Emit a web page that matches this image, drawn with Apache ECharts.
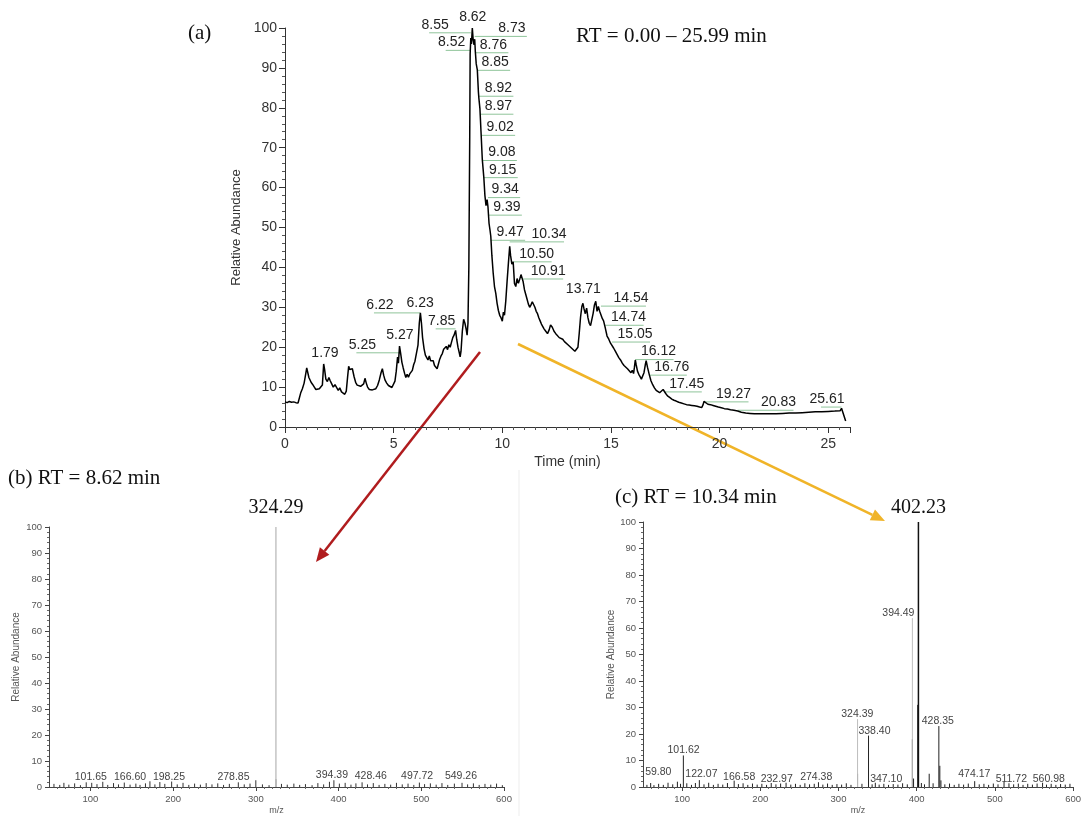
<!DOCTYPE html>
<html style="height: 100%">
<head>
    <meta charset="utf-8">
    <script src="https://cdn.jsdelivr.net/npm/echarts@6/dist/echarts.min.js"></script>
</head>
<body style="height: 100%; margin: 0; background: #fff">
    <div id="main" style="width: 1084px; height: 816px;"></div>
    <script type="text/javascript">
    // (a) chromatogram, RT 0.00 - 25.99 min
    var ticTime = [0.00, 0.10, 0.20, 0.30, 0.40, 0.50, 0.60, 0.68, 0.72, 0.80, 0.88, 0.95, 1.00, 1.05, 1.10, 1.15, 1.20, 1.28, 1.35, 1.42,
        1.50, 1.58, 1.65, 1.72, 1.78, 1.82, 1.88, 1.95, 2.02, 2.08, 2.15, 2.22, 2.30, 2.38, 2.45, 2.52, 2.60, 2.68, 2.75, 2.82,
        2.88, 2.93, 2.98, 3.05, 3.10, 3.18, 3.25, 3.32, 3.40, 3.48, 3.55, 3.62, 3.68, 3.74, 3.80, 3.88, 3.95, 4.02, 4.10, 4.18,
        4.26, 4.34, 4.42, 4.48, 4.54, 4.60, 4.68, 4.76, 4.84, 4.92, 5.00, 5.06, 5.12, 5.18, 5.22, 5.27, 5.32, 5.38, 5.44, 5.50,
        5.56, 5.62, 5.68, 5.74, 5.80, 5.86, 5.92, 5.98, 6.05, 6.12, 6.18, 6.23, 6.28, 6.33, 6.40, 6.46, 6.52, 6.58, 6.64, 6.70,
        6.76, 6.82, 6.88, 6.94, 7.00, 7.06, 7.12, 7.18, 7.24, 7.30, 7.36, 7.42, 7.48, 7.54, 7.60, 7.66, 7.72, 7.78, 7.85, 7.90,
        7.96, 8.02, 8.06, 8.10, 8.16, 8.22, 8.28, 8.34, 8.38, 8.42, 8.46, 8.50, 8.52, 8.55, 8.58, 8.62, 8.66, 8.70, 8.73, 8.76,
        8.80, 8.85, 8.90, 8.92, 8.97, 9.02, 9.08, 9.15, 9.20, 9.25, 9.30, 9.34, 9.39, 9.43, 9.47, 9.52, 9.58, 9.64, 9.70, 9.76,
        9.82, 9.88, 9.94, 10.00, 10.05, 10.10, 10.16, 10.22, 10.28, 10.34, 10.38, 10.44, 10.50, 10.56, 10.62, 10.68, 10.74, 10.80, 10.86, 10.91,
        10.96, 11.02, 11.08, 11.14, 11.20, 11.26, 11.32, 11.38, 11.44, 11.50, 11.56, 11.62, 11.68, 11.74, 11.80, 11.86, 11.92, 12.00, 12.08, 12.16,
        12.22, 12.30, 12.38, 12.46, 12.54, 12.62, 12.70, 12.78, 12.86, 12.94, 13.02, 13.10, 13.18, 13.26, 13.34, 13.42, 13.48, 13.54, 13.60, 13.66,
        13.71, 13.76, 13.82, 13.88, 13.94, 14.00, 14.06, 14.12, 14.18, 14.24, 14.30, 14.36, 14.42, 14.48, 14.54, 14.60, 14.66, 14.74, 14.82, 14.90,
        14.98, 15.05, 15.12, 15.20, 15.28, 15.36, 15.44, 15.52, 15.60, 15.68, 15.76, 15.84, 15.92, 15.98, 16.04, 16.08, 16.12, 16.16, 16.22, 16.28,
        16.34, 16.40, 16.46, 16.52, 16.58, 16.62, 16.68, 16.76, 16.84, 16.92, 17.00, 17.08, 17.16, 17.24, 17.32, 17.40, 17.45, 17.52, 17.60, 17.70,
        17.80, 17.90, 18.00, 18.12, 18.24, 18.36, 18.48, 18.60, 18.72, 18.84, 18.96, 19.08, 19.18, 19.24, 19.28, 19.36, 19.46, 19.58, 19.70, 19.82,
        19.94, 20.08, 20.22, 20.36, 20.50, 20.66, 20.83, 21.00, 21.20, 21.40, 21.60, 21.80, 22.00, 22.30, 22.60, 22.90, 23.20, 23.50, 23.80, 24.10,
        24.40, 24.70, 25.00, 25.30, 25.55, 25.61, 25.68, 25.80];
    var ticAbund = [6.3, 6.1, 6.4, 6.2, 6.3, 6.1, 6.0, 5.9, 8.5, 9.6, 11.0, 13.2, 14.8, 13.6, 12.4, 12.9, 11.2, 10.6, 10.0, 9.4,
        9.0, 9.6, 9.1, 10.5, 15.8, 14.5, 12.0, 11.4, 12.4, 11.6, 10.8, 10.0, 10.6, 10.2, 9.2, 9.8, 8.8, 8.5, 8.2, 9.0,
        12.5, 15.2, 14.4, 14.0, 14.6, 12.6, 11.2, 10.5, 11.0, 10.2, 9.8, 10.8, 12.2, 11.0, 10.0, 9.4, 9.0, 9.3, 8.8, 9.6,
        10.4, 11.8, 13.6, 14.6, 13.0, 11.8, 11.0, 10.4, 10.0, 9.9, 10.4, 11.5, 14.0, 17.5, 16.0, 20.3, 18.5, 16.2, 14.8, 13.5,
        12.4, 13.2, 12.5, 13.3, 13.0, 14.2, 15.6, 16.5, 17.0, 20.5, 26.0, 28.6, 26.0, 22.4, 19.6, 18.0, 17.4, 16.8, 17.8, 16.6,
        16.2, 16.6, 15.4, 15.0, 14.6, 15.8, 17.0, 17.8, 18.4, 19.5, 19.0, 20.2, 19.4, 20.6, 20.0, 21.2, 22.4, 23.0, 24.2, 22.0,
        20.0, 18.6, 17.6, 19.0, 24.0, 27.0, 26.0, 24.4, 23.0, 26.0, 40.0, 72.0, 93.5, 97.5, 96.0, 100.0, 97.0, 95.8, 97.2, 94.0,
        91.0, 89.5, 84.0, 82.5, 79.8, 74.0, 67.0, 62.5, 58.0, 55.5, 57.0, 55.2, 51.0, 49.5, 47.8, 43.0, 38.6, 35.2, 33.5, 31.0,
        29.2, 28.0, 27.4, 26.5, 28.8, 28.0, 31.6, 36.5, 41.0, 45.3, 43.0, 40.8, 41.4, 36.0, 35.2, 37.2, 36.0, 37.0, 38.2, 38.6,
        36.4, 34.4, 33.2, 32.0, 30.8, 30.0, 30.6, 31.4, 31.2, 30.0, 29.0, 28.4, 27.4, 26.6, 25.8, 25.4, 24.6, 24.0, 23.4, 24.4,
        25.6, 25.0, 24.0, 23.4, 23.0, 22.4, 22.8, 22.0, 21.4, 21.0, 20.6, 20.2, 19.8, 19.4, 19.0, 18.8, 20.0, 23.5, 27.5, 30.2,
        31.0, 29.6, 28.4, 29.8, 27.4, 26.0, 25.4, 25.8, 28.5, 30.6, 31.5, 29.0, 30.2, 29.0, 28.6, 27.2, 26.6, 24.8, 22.8, 22.0,
        21.0, 20.6, 19.8, 19.0, 18.2, 17.4, 16.8, 16.0, 15.4, 15.8, 14.6, 14.4, 13.6, 14.2, 13.4, 15.0, 16.8, 15.6, 14.0, 13.2,
        12.6, 12.0, 12.4, 13.6, 15.6, 16.6, 15.0, 13.2, 11.6, 10.6, 9.8, 9.2, 8.8, 8.6, 8.9, 9.4, 9.2, 8.4, 7.8, 7.4,
        7.0, 6.7, 6.5, 6.2, 6.0, 5.8, 5.6, 5.5, 5.4, 5.3, 5.2, 5.0, 4.9, 5.6, 6.4, 6.0, 5.7, 5.6, 5.4, 5.2,
        5.0, 4.8, 4.6, 4.5, 4.3, 4.2, 4.0, 3.7, 3.5, 3.4, 3.3, 3.3, 3.3, 3.3, 3.3, 3.4, 3.5, 3.5, 3.6, 3.7,
        3.8, 3.8, 3.9, 4.0, 4.1, 4.7, 4.2, 1.5];

    // peak annotations: retention time, label position (min, abundance)
    var peakRT = [1.79, 5.25, 5.27, 6.22, 6.23, 7.85, 8.52, 8.55, 8.62, 8.73, 8.76, 8.85, 8.92, 8.97, 9.02, 9.08, 9.15,
        9.34, 9.39, 9.47, 10.34, 10.50, 10.91, 13.71, 14.54, 14.74, 15.05, 16.12, 16.76, 17.45, 19.27, 20.83, 25.61];
    var peakLabelT = [1.84, 3.56, 5.29, 4.37, 6.22, 7.21, 7.67, 6.91, 8.64, 10.44, 9.59, 9.67, 9.82, 9.82, 9.90, 9.98, 10.02,
        10.13, 10.21, 10.36, 12.15, 11.58, 12.11, 13.73, 15.92, 15.81, 16.11, 17.19, 17.80, 18.49, 20.64, 22.71, 24.94];
    var peakLabelA = [18.5, 20.6, 22.9, 30.6, 31.1, 26.6, 96.4, 100.8, 102.7, 99.9, 95.8, 91.4, 84.9, 80.4, 75.1, 68.8, 64.5,
        59.5, 55.1, 48.8, 48.4, 43.4, 39.1, 34.6, 32.3, 27.5, 23.3, 18.9, 15.0, 10.8, 8.3, 6.2, 7.0];

    // (b) mass spectrum at RT 8.62 min: [m/z, relative abundance]
    var bSticks = [[56, 1.2], [63, 0.8], [68, 1.6], [74, 0.9], [81, 1.4], [88, 0.7], [95, 1.8], [101.65, 1.6], [108, 1.1], [115, 2.0],
        [121, 0.8], [128, 1.5], [134, 1.0], [141, 1.7], [148, 0.9], [155, 1.3], [160, 0.8], [166.60, 1.4], [172, 2.2], [178, 1.0],
        [184, 1.9], [190, 1.2], [198.25, 2.1], [205, 1.0], [212, 1.6], [219, 0.8], [226, 1.3], [233, 0.9], [240, 1.5], [247, 1.0],
        [254, 1.4], [261, 0.8], [268, 1.2], [278.85, 1.8], [286, 1.0], [293, 1.3], [300, 2.6], [308, 1.0], [316, 0.7], [324.29, 3.0],
        [331, 1.2], [338, 0.9], [346, 1.3], [353, 0.8], [360, 1.1], [368, 0.7], [375, 1.5], [382, 1.0], [389, 2.0], [394.39, 2.6],
        [401, 1.3], [408, 1.6], [415, 0.9], [421, 1.4], [428.46, 1.8], [435, 1.0], [442, 1.5], [449, 0.8], [456, 1.2], [463, 0.9],
        [470, 1.6], [477, 1.0], [484, 1.3], [491, 0.8], [497.72, 1.7], [504, 1.1], [511, 1.4], [518, 0.9], [525, 1.5], [532, 0.8],
        [540, 1.3], [549.26, 1.6], [556, 1.0], [563, 1.4], [570, 0.8], [577, 1.2], [584, 0.9], [591, 1.3], [598, 0.7]];
    // [peak m/z, label m/z, label abundance]
    var bLabels = [[101.65, 100.5, 3.8], [166.60, 148, 3.8], [198.25, 195, 3.8], [278.85, 273, 3.8],
        [394.39, 392, 4.5], [428.46, 439, 4.3], [497.72, 495, 4.3], [549.26, 548, 4.3]];
    var bBase = [324.29, 100, 107.3];

    // (c) mass spectrum at RT 10.34 min
    var cSticks = [[55, 0.8], [59.80, 1.5], [64, 0.7], [70, 1.2], [76, 0.8], [82, 1.6], [88, 1.0], [94, 2.0], [98, 1.2], [101.62, 11.9],
        [106, 1.4], [112, 0.8], [117, 1.5], [122.07, 2.6], [128, 1.0], [134, 1.6], [140, 0.8], [146, 1.2], [152, 0.9], [158, 1.5],
        [166.58, 2.4], [172, 1.1], [178, 1.4], [184, 0.8], [190, 1.3], [196, 0.9], [202, 1.2], [208, 0.8], [214, 1.5], [220, 1.0],
        [226, 1.3], [232.97, 1.6], [239, 0.9], [245, 1.2], [251, 0.8], [257, 1.4], [263, 1.0], [269, 1.2], [274.38, 1.8], [280, 0.9],
        [286, 1.3], [292, 0.8], [298, 1.1], [304, 0.9], [310, 1.4], [316, 0.8], [324.39, 5.0], [330, 1.2], [338.40, 19.4], [343, 1.0],
        [347.10, 1.6], [352, 0.9], [358, 1.2], [364, 0.8], [370, 1.1], [376, 0.9], [382, 1.4], [388, 1.0], [394.49, 18.0], [396, 3.2],
        [401.3, 31.0], [406, 1.5], [410, 1.0], [416, 5.0], [421, 1.4], [428.35, 23.0], [429.6, 8.0], [431, 2.5], [436, 1.0], [442, 1.3],
        [448, 0.8], [454, 1.2], [460, 0.9], [466, 1.3], [474.17, 2.2], [480, 1.0], [486, 1.2], [492, 0.8], [498, 1.3], [504, 1.0],
        [511.72, 2.0], [518, 1.4], [524, 1.0], [530, 1.3], [536, 0.8], [542, 1.2], [548, 0.9], [554, 1.3], [560.98, 1.6], [566, 0.9],
        [572, 1.2], [578, 0.8], [584, 1.1], [590, 0.9], [596, 1.2]];
    var cLabels = [[59.80, 69.6, 5.6], [101.62, 101.9, 14.1], [122.07, 124.7, 5.0], [166.58, 173, 3.8], [232.97, 221, 3.1],
        [274.38, 271.5, 3.8], [324.39, 324, 27.5], [338.40, 346, 21.2], [347.10, 361, 3.1], [394.49, 376.6, 65.6],
        [428.35, 427, 25.0], [474.17, 473.7, 5.0], [511.72, 521, 3.1], [560.98, 569, 3.1]];
    var cBase = [402.23, 100, 105.5];

    var mzTicks = [100, 200, 300, 400, 500, 600];

    var myChart = echarts.init(document.getElementById('main'));

    function peakLabelItem(params, api) {
        var rt = api.value(0);
        var p = api.coord([api.value(1), api.value(2)]);
        var px = api.coord([rt, api.value(2)])[0];
        var children = [{
            type: 'text',
            style: {
                text: rt.toFixed(2), x: p[0], y: p[1], align: 'center', verticalAlign: 'middle',
                fill: '#222', fontSize: 14, fontFamily: 'Arial'
            }
        }];
        var x2 = null;
        if (p[0] > px + 5) x2 = p[0] + 15;
        else if (p[0] < px - 5) x2 = p[0] - 6;
        if (x2 !== null) {
            children.push({
                type: 'line',
                shape: { x1: px, y1: p[1] + 8, x2: x2, y2: p[1] + 8 },
                style: { stroke: '#8fc49a', lineWidth: 1 }
            });
        }
        return { type: 'group', children: children };
    }

    function stickItem(params, api) {
        var p0 = api.coord([api.value(0), 0]);
        var p1 = api.coord([api.value(0), api.value(1)]);
        return {
            type: 'line',
            shape: { x1: p0[0], y1: p0[1], x2: p1[0], y2: p1[1] },
            style: { stroke: api.visual('color'), lineWidth: 1 }
        };
    }

    function specLabelItem(sticks) {
        return function (params, api) {
            var mz = api.value(0);
            var p = api.coord([api.value(1), api.value(2)]);
            var h = 0;
            sticks.forEach(function (s) { if (s[0] === mz) h = s[1]; });
            var children = [{
                type: 'text',
                style: {
                    text: mz.toFixed(2), x: p[0], y: p[1], align: 'center', verticalAlign: 'middle',
                    fill: '#444', fontSize: 10.5, fontFamily: 'Arial'
                }
            }];
            if (api.value(2) - h > 6) {
                var b = api.coord([mz, 0]);
                children.push({
                    type: 'line',
                    shape: { x1: b[0], y1: b[1], x2: b[0], y2: p[1] + 5 },
                    style: { stroke: '#bdbdbd', lineWidth: 1 }
                });
            }
            return { type: 'group', children: children };
        };
    }

    function basePeakItem(params, api) {
        var mz = api.value(0);
        var p0 = api.coord([mz, 0]);
        var p1 = api.coord([mz, api.value(1)]);
        var pl = api.coord([mz, api.value(2)]);
        return {
            type: 'group',
            children: [{
                type: 'line',
                shape: { x1: p0[0], y1: p0[1], x2: p1[0], y2: p1[1] },
                style: { stroke: api.visual('color'), lineWidth: 1.5 }
            }, {
                type: 'text',
                style: {
                    text: mz.toFixed(2), x: pl[0], y: pl[1], align: 'center', verticalAlign: 'middle',
                    fill: '#111', fontSize: 20, fontFamily: 'Liberation Serif'
                }
            }]
        };
    }

    function specXAxis(gi) {
        return {
            type: 'value', gridIndex: gi, min: 50, max: 600, interval: 50,
            name: 'm/z', nameLocation: 'middle', nameGap: 19,
            nameTextStyle: { fontSize: 9, color: '#555', fontFamily: 'Arial' },
            axisLine: { lineStyle: { color: '#444' } },
            axisTick: { length: 4, customValues: mzTicks, lineStyle: { color: '#444' } },
            minorTick: { show: true, splitNumber: 5, length: 2, lineStyle: { color: '#666' } },
            axisLabel: { customValues: mzTicks, fontSize: 9.5, color: '#555', margin: 7, fontFamily: 'Arial' },
            splitLine: { show: false }
        };
    }

    function specYAxis(gi, gap) {
        return {
            type: 'value', gridIndex: gi, min: 0, max: 100, interval: 10,
            name: 'Relative Abundance', nameLocation: 'middle', nameGap: gap,
            nameTextStyle: { fontSize: 10, color: '#555', fontFamily: 'Arial' },
            axisLine: { show: true, lineStyle: { color: '#444' } },
            axisTick: { show: true, length: 4, lineStyle: { color: '#444' } },
            minorTick: { show: true, splitNumber: 5, length: 2, lineStyle: { color: '#666' } },
            axisLabel: { fontSize: 9.5, color: '#555', margin: 7, fontFamily: 'Arial' },
            splitLine: { show: false }
        };
    }

    function arrow(x1, y1, x2, y2, color) {
        var a = Math.atan2(y2 - y1, x2 - x1);
        var len = 14, w = 6;
        var bx = x2 - len * Math.cos(a), by = y2 - len * Math.sin(a);
        return [{
            type: 'line', silent: true,
            shape: { x1: x1, y1: y1, x2: bx, y2: by },
            style: { stroke: color, lineWidth: 2.5 }
        }, {
            type: 'polygon', silent: true,
            shape: { points: [[x2, y2], [bx + w * Math.sin(a), by - w * Math.cos(a)], [bx - w * Math.sin(a), by + w * Math.cos(a)]] },
            style: { fill: color }
        }];
    }

    function titleText(x, y, text) {
        return {
            type: 'text', x: x, y: y, silent: true,
            style: { text: text, fill: '#111', fontSize: 21, fontFamily: 'Liberation Serif', verticalAlign: 'middle' }
        };
    }

    var option = {
        backgroundColor: '#fff',
        animation: false,
        grid: [
            { left: 285, top: 28, width: 565, height: 399 },
            { left: 49, top: 527, width: 455, height: 261 },
            { left: 643, top: 522, width: 434.5, height: 266 }
        ],
        xAxis: [
            {
                type: 'value', gridIndex: 0, min: 0, max: 26, interval: 5,
                name: 'Time (min)', nameLocation: 'middle', nameGap: 28,
                nameTextStyle: { fontSize: 14, color: '#333', fontFamily: 'Arial' },
                axisLine: { lineStyle: { color: '#333' } },
                axisTick: { length: 6, lineStyle: { color: '#333' } },
                minorTick: { show: true, splitNumber: 10, length: 3, lineStyle: { color: '#555' } },
                axisLabel: { fontSize: 14, color: '#333', margin: 10, showMaxLabel: false, fontFamily: 'Arial' },
                splitLine: { show: false }
            },
            specXAxis(1),
            specXAxis(2)
        ],
        yAxis: [
            {
                type: 'value', gridIndex: 0, min: 0, max: 100, interval: 10,
                name: 'Relative Abundance', nameLocation: 'middle', nameGap: 35,
                nameTextStyle: { fontSize: 13, color: '#333', fontFamily: 'Arial' },
                axisLine: { show: true, lineStyle: { color: '#333' } },
                axisTick: { show: true, length: 6, lineStyle: { color: '#333' } },
                minorTick: { show: true, splitNumber: 5, length: 3, lineStyle: { color: '#555' } },
                axisLabel: { fontSize: 14, color: '#333', margin: 8, fontFamily: 'Arial' },
                splitLine: { show: false }
            },
            specYAxis(1, 28),
            specYAxis(2, 25)
        ],
        series: [
            {
                name: 'TIC', type: 'line', xAxisIndex: 0, yAxisIndex: 0,
                symbol: 'none', silent: true,
                lineStyle: { color: '#000', width: 1.5 },
                data: ticTime.map(function (t, i) { return [t, ticAbund[i]]; })
            },
            {
                type: 'custom', xAxisIndex: 0, yAxisIndex: 0, clip: false, silent: true,
                renderItem: peakLabelItem,
                data: peakRT.map(function (rt, i) { return [rt, peakLabelT[i], peakLabelA[i]]; })
            },
            {
                type: 'custom', xAxisIndex: 1, yAxisIndex: 1, silent: true,
                itemStyle: { color: '#333' }, renderItem: stickItem, data: bSticks
            },
            {
                type: 'custom', xAxisIndex: 1, yAxisIndex: 1, clip: false, silent: true,
                renderItem: specLabelItem(bSticks), data: bLabels
            },
            {
                type: 'custom', xAxisIndex: 1, yAxisIndex: 1, clip: false, silent: true,
                itemStyle: { color: '#c4c4c4' }, renderItem: basePeakItem, data: [bBase]
            },
            {
                type: 'custom', xAxisIndex: 2, yAxisIndex: 2, silent: true,
                itemStyle: { color: '#222' }, renderItem: stickItem, data: cSticks
            },
            {
                type: 'custom', xAxisIndex: 2, yAxisIndex: 2, clip: false, silent: true,
                renderItem: specLabelItem(cSticks), data: cLabels
            },
            {
                type: 'custom', xAxisIndex: 2, yAxisIndex: 2, clip: false, silent: true,
                itemStyle: { color: '#111' }, renderItem: basePeakItem, data: [cBase]
            }
        ],
        graphic: [
            titleText(188, 33, '(a)'),
            titleText(576, 36, 'RT = 0.00 \u2013 25.99 min'),
            titleText(8, 478, '(b) RT = 8.62 min'),
            titleText(615, 497, '(c) RT = 10.34 min'),
            {
                type: 'line', silent: true,
                shape: { x1: 519, y1: 470, x2: 519, y2: 816 },
                style: { stroke: '#ededed', lineWidth: 1 }
            }
        ].concat(arrow(480, 352, 316, 562, '#b01c1e'), arrow(518, 344, 885, 521, '#f0b428'))
    };

    option && myChart.setOption(option);
    </script>
</body>
</html>
